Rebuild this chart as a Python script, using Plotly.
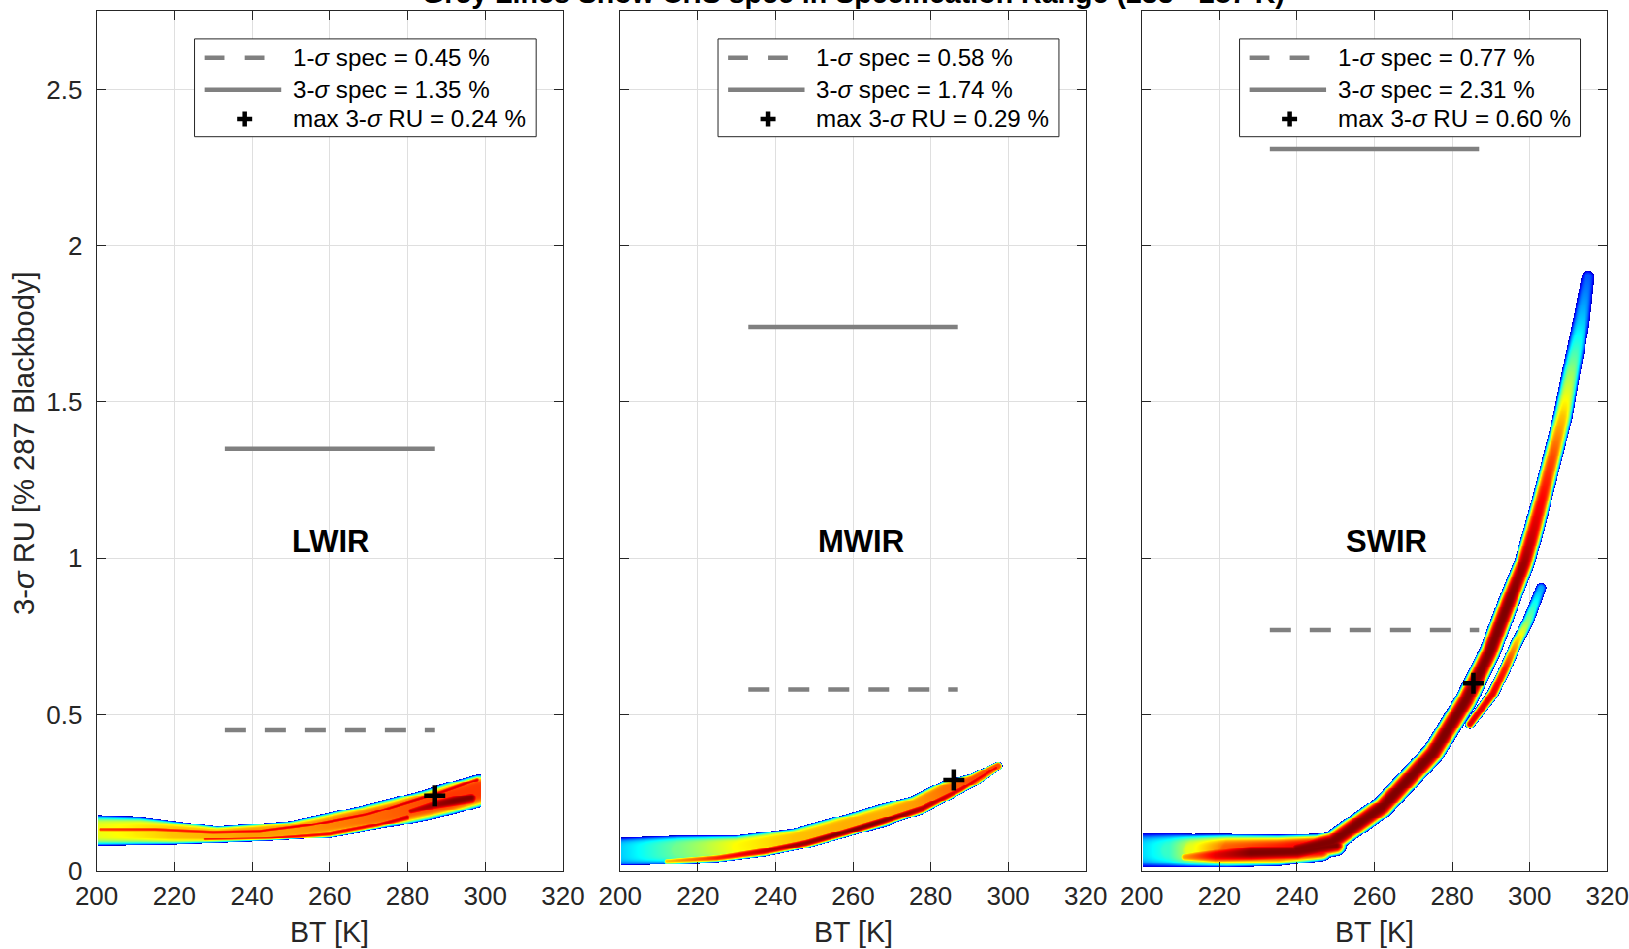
import numpy as np
import plotly.graph_objects as go

# ---------------- data ----------------
bands = ["LWIR", "MWIR", "SWIR"]
spec_1sigma = [0.45, 0.58, 0.77]
spec_3sigma = [1.35, 1.74, 2.31]
spec_range = [233, 287]
max_bt = [287.0, 286.0, 285.5]
max_ru = [0.24, 0.29, 0.60]
label_bt = [260.3, 262.1, 263.2]
label_ru = [1.055, 1.055, 1.055]
bt_ticks = [200, 220, 240, 260, 280, 300, 320]
ru_ticks = [0, 0.5, 1, 1.5, 2, 2.5]

# density ridges: BT [K], RU [%], half spread [px], peak density (0..1)
lw_broad_bt = [200.3, 211, 220, 231, 240, 250, 259, 268, 277, 285, 291, 298.5]
lw_broad_ru = [0.127, 0.126, 0.12, 0.114, 0.12, 0.128, 0.145, 0.165, 0.187, 0.21, 0.23, 0.256]
lw_broad_hw = [15.5, 14.5, 12, 8.5, 9, 9.5, 11.5, 13, 14.5, 15.5, 16.5, 16.5]
lw_broad_pk = [0.6, 0.64, 0.68, 0.7, 0.72, 0.72, 0.74, 0.76, 0.78, 0.8, 0.82, 0.82]
lw_up_bt = [201, 215, 230, 242, 255, 270, 285, 298]
lw_up_ru = [0.13, 0.13, 0.122, 0.125, 0.145, 0.18, 0.235, 0.29]
lw_up_hw = [4, 4, 3.5, 3.5, 4, 4, 4.5, 4.5]
lw_up_pk = [0.82, 0.85, 0.86, 0.88, 0.9, 0.9, 0.92, 0.9]
lw_lo_bt = [228, 245, 260, 272, 280]
lw_lo_ru = [0.1, 0.105, 0.118, 0.145, 0.17]
lw_lo_hw = [3.5, 3.5, 4, 4.5, 5.5]
lw_lo_pk = [0.85, 0.87, 0.88, 0.9, 0.92]
lw_blob_bt = [281, 287, 292, 296.5]
lw_blob_ru = [0.19, 0.21, 0.222, 0.232]
lw_blob_hw = [6, 8.5, 9.5, 9.5]
lw_blob_pk = [0.93, 0.97, 1.0, 1.0]

mw_broad_bt = [200.5, 215, 230, 245, 258, 268, 276, 284, 291, 297.5]
mw_broad_ru = [0.062, 0.068, 0.076, 0.103, 0.144, 0.178, 0.21, 0.2575, 0.29, 0.335]
mw_broad_hw = [14.5, 14.5, 12, 10.5, 11.2, 11.7, 9.6, 10, 6.8, 4.5]
mw_broad_pk = [0.32, 0.48, 0.62, 0.68, 0.7, 0.7, 0.72, 0.76, 0.8, 0.8]
mw_core_bt = [212, 225, 237, 248, 258, 268, 278, 288, 297]
mw_core_ru = [0.032, 0.042, 0.063, 0.09, 0.124, 0.16, 0.2, 0.262, 0.33]
mw_core_hw = [3.5, 4.5, 5.5, 5.5, 5.5, 5.5, 5.5, 4.5, 3.5]
mw_core_pk = [0.68, 0.84, 0.93, 0.98, 1.0, 1.0, 0.95, 0.9, 0.88]

sw_flat_bt = [200.3, 207, 213, 222, 235, 246]
sw_flat_ru = [0.066, 0.066, 0.065, 0.065, 0.066, 0.075]
sw_flat_hw = [17.5, 17.5, 17, 17, 16, 14]
sw_flat_pk = [0.33, 0.42, 0.6, 0.78, 0.85, 0.9]
sw_core_bt = [211, 219, 228, 240, 250]
sw_core_ru = [0.045, 0.05, 0.058, 0.062, 0.082]
sw_core_hw = [6, 11, 13, 12.5, 11]
sw_core_pk = [0.72, 0.9, 1.0, 1.0, 1.0]
sw_main_bt = [240, 249, 262, 275, 283.5, 289.6, 294.5, 298.5, 300.7, 303.2, 305.8, 308.4, 310.5, 313.1, 314.9]
sw_main_ru = [0.068, 0.093, 0.205, 0.377, 0.546, 0.70, 0.86, 0.985, 1.08, 1.197, 1.325, 1.453, 1.592, 1.752, 1.90]
sw_main_hw = [11, 11.5, 11.5, 11.5, 11.5, 11, 11, 10.5, 10.5, 10, 10, 10, 9.5, 9, 7]
sw_main_pk = [1, 1, 1, 1, 1, 1, 1, 0.97, 0.92, 0.87, 0.8, 0.68, 0.52, 0.32, 0.2]
sw_br_bt = [284.5, 290.4, 293.5, 296.4, 299.5, 302.8]
sw_br_ru = [0.47, 0.567, 0.645, 0.727, 0.80, 0.905]
sw_br_hw = [5, 6, 6, 6, 6, 5.5]
sw_br_pk = [0.9, 0.9, 0.85, 0.7, 0.5, 0.28]

# ---------------- geometry ----------------
W, H = 1629, 949
XDOM = [[96.6 / W, 563.0 / W], [620.3 / W, 1085.7 / W], [1141.8 / W, 1607.3 / W]]
YDOM = [1 - 870.7 / H, 1 - 11.4 / H]
XR = [200, 320]
YR = [0, 2.75]
PX_PER_K = (563.0 - 96.6) / 120.0
PX_PER_RU = (870.7 - 11.4) / 2.75


def ridge(gx, gy, bt, ru, hw, pk, expo=3.0):
    X = (gx[None, :] - 200) * PX_PER_K
    Y = gy[:, None] * PX_PER_RU
    out = np.zeros((len(gy), len(gx)))
    px = (np.asarray(bt) - 200) * PX_PER_K
    py = np.asarray(ru) * PX_PER_RU
    for i in range(len(bt) - 1):
        dx, dy = px[i + 1] - px[i], py[i + 1] - py[i]
        L2 = dx * dx + dy * dy
        t = np.clip(((X - px[i]) * dx + (Y - py[i]) * dy) / L2, 0, 1)
        d = np.hypot(X - (px[i] + t * dx), Y - (py[i] + t * dy))
        w = hw[i] + t * (hw[i + 1] - hw[i])
        p = pk[i] + t * (pk[i + 1] - pk[i])
        v = np.where(d < w, p * (1 - np.clip(d / w, 0, 1) ** expo), 0.0)
        out = np.maximum(out, v)
    return out


def panel_density(gx, gy, layers, lo, hi):
    z = np.zeros((len(gy), len(gx)))
    for (bt, ru, hw, pk, e) in layers:
        z = np.maximum(z, ridge(gx, gy, bt, ru, hw, pk, e))
    z[:, (gx < lo) | (gx > hi)] = 0
    z[gy < 0.004, :] = 0
    z = z.astype(np.float32)
    z[z < 0.04] = np.nan
    return z


gx = np.arange(200.125, 320, 0.25)
gy_lw = np.arange(0.0015, 0.36, 0.003)
gy_mw = np.arange(0.0015, 0.40, 0.003)
gy_sw = np.arange(0.0015, 1.98, 0.003)

z_lw = panel_density(gx, gy_lw, [
    (lw_broad_bt, lw_broad_ru, lw_broad_hw, lw_broad_pk, 5.0),
    (lw_up_bt, lw_up_ru, lw_up_hw, lw_up_pk, 2.0),
    (lw_lo_bt, lw_lo_ru, lw_lo_hw, lw_lo_pk, 2.0),
    (lw_blob_bt, lw_blob_ru, lw_blob_hw, lw_blob_pk, 2.5),
], 200.2, 299.0)
z_mw = panel_density(gx, gy_mw, [
    (mw_broad_bt, mw_broad_ru, mw_broad_hw, mw_broad_pk, 5.0),
    (mw_core_bt, mw_core_ru, mw_core_hw, mw_core_pk, 2.5),
], 200.2, 298.7)
z_sw = panel_density(gx, gy_sw, [
    (sw_flat_bt, sw_flat_ru, sw_flat_hw, sw_flat_pk, 4.0),
    (sw_core_bt, sw_core_ru, sw_core_hw, sw_core_pk, 2.5),
    (sw_main_bt, sw_main_ru, sw_main_hw, sw_main_pk, 3.0),
    (sw_br_bt, sw_br_ru, sw_br_hw, sw_br_pk, 3.0),
], 200.2, 320)

jet = [[0.0, "rgb(0,0,143)"], [0.111, "rgb(0,0,255)"], [0.365, "rgb(0,255,255)"],
       [0.619, "rgb(255,255,0)"], [0.873, "rgb(255,0,0)"], [1.0, "rgb(128,0,0)"]]

FONT = "Liberation Sans, Arial, Helvetica, sans-serif"
AX = "#262626"
GREY = "rgb(128,128,128)"

fig = go.Figure()
dens = [(z_lw, gy_lw), (z_mw, gy_mw), (z_sw, gy_sw)]
shapes, annots = [], []
for k in range(3):
    xa = "x" if k == 0 else f"x{k+1}"
    ya = "y" if k == 0 else f"y{k+1}"
    z, gy = dens[k]
    fig.add_trace(go.Heatmap(x=gx, y=gy, z=z, colorscale=jet, zmin=0, zmax=1,
                             showscale=False, zsmooth=False, hoverinfo="skip",
                             xaxis=xa, yaxis=ya))
    fig.add_trace(go.Scatter(x=spec_range, y=[spec_3sigma[k]] * 2, mode="lines",
                             line=dict(color=GREY, width=4.5), xaxis=xa, yaxis=ya,
                             showlegend=False))
    fig.add_trace(go.Scatter(x=spec_range, y=[spec_1sigma[k]] * 2, mode="lines",
                             line=dict(color=GREY, width=4.5, dash="21px,19px"),
                             xaxis=xa, yaxis=ya, showlegend=False))
    fig.add_trace(go.Scatter(x=[max_bt[k]], y=[max_ru[k]], mode="markers",
                             marker=dict(symbol="cross-thin", size=15,
                                         line=dict(color="black", width=4.5)),
                             xaxis=xa, yaxis=ya, showlegend=False))
    # legend box
    shapes.append(dict(type="rect", xref=xa, yref=ya, x0=225.2, x1=313.1, y0=2.349, y1=2.662,
                       line=dict(color=AX, width=1), fillcolor="white", layer="above"))
    for a, b in [(227.8, 232.9), (238.1, 243.2)]:
        shapes.append(dict(type="line", xref=xa, yref=ya, x0=a, x1=b, y0=2.602, y1=2.602,
                           line=dict(color=GREY, width=4.5), layer="above"))
    shapes.append(dict(type="line", xref=xa, yref=ya, x0=227.8, x1=247.5, y0=2.499, y1=2.499,
                       line=dict(color=GREY, width=4.5), layer="above"))
    shapes.append(dict(type="line", xref=xa, yref=ya, x0=238.1 - 1.93, x1=238.1 + 1.93,
                       y0=2.406, y1=2.406, line=dict(color="black", width=4.5), layer="above"))
    shapes.append(dict(type="line", xref=xa, yref=ya, x0=238.1, x1=238.1,
                       y0=2.406 - 0.024, y1=2.406 + 0.024, line=dict(color="black", width=4.5),
                       layer="above"))
    texts = [f"1-<i>σ</i> spec = {spec_1sigma[k]:.2f} %",
             f"3-<i>σ</i> spec = {spec_3sigma[k]:.2f} %",
             f"max 3-<i>σ</i> RU = {max_ru[k]:.2f} %"]
    for t, yy in zip(texts, [2.602, 2.499, 2.406]):
        annots.append(dict(text=t, x=250.0, y=yy, xref=xa, yref=ya, xanchor="left",
                           yanchor="middle", showarrow=False,
                           font=dict(family=FONT, size=24.2, color="black")))
    annots.append(dict(text=f"<b>{bands[k]}</b>", x=label_bt[k], y=label_ru[k], xref=xa, yref=ya,
                       xanchor="center", yanchor="middle", showarrow=False,
                       font=dict(family=FONT, size=31, color="black")))
    annots.append(dict(text="BT [K]", x=(XDOM[k][0] + XDOM[k][1]) / 2, y=1 - 932 / H,
                       xref="paper", yref="paper", xanchor="center", yanchor="middle",
                       showarrow=False, font=dict(family=FONT, size=28.6, color=AX)))

annots.append(dict(text="3-<i>σ</i> RU [% 287 Blackbody]", x=24 / W, y=1 - 443 / H,
                   xref="paper", yref="paper", xanchor="center", yanchor="middle",
                   textangle=-90, showarrow=False, font=dict(family=FONT, size=29.2, color=AX)))
annots.append(dict(text="<b>Grey Lines Show CrIS spec in Specification Range (233 - 287 K)</b>",
                   x=(XDOM[1][0] + XDOM[1][1]) / 2, y=1 - 11 / H, xref="paper", yref="paper",
                   xanchor="center", yanchor="bottom", showarrow=False,
                   font=dict(family=FONT, size=28.6, color="black")))

layout = dict(width=W, height=H, margin=dict(l=0, r=0, t=0, b=0, autoexpand=False),
              paper_bgcolor="white", plot_bgcolor="white", showlegend=False,
              shapes=shapes, annotations=annots)
for k in range(3):
    xn = "xaxis" if k == 0 else f"xaxis{k+1}"
    yn = "yaxis" if k == 0 else f"yaxis{k+1}"
    ya = "y" if k == 0 else f"y{k+1}"
    xa = "x" if k == 0 else f"x{k+1}"
    common = dict(showline=True, linecolor=AX, linewidth=1, mirror="ticks",
                  ticks="inside", ticklen=9, tickwidth=1, tickcolor=AX,
                  showgrid=True, gridcolor="#dfdfdf", gridwidth=1, zeroline=False,
                  automargin=False, tickfont=dict(family=FONT, size=26, color=AX))
    layout[xn] = dict(domain=XDOM[k], range=XR, anchor=ya, tickvals=bt_ticks,
                      ticktext=[str(v) for v in bt_ticks], ticklabelstandoff=2, **common)
    layout[yn] = dict(domain=YDOM, range=YR, anchor=xa, tickvals=ru_ticks,
                      ticktext=[("%g" % v) for v in ru_ticks], showticklabels=(k == 0),
                      ticklabelstandoff=8, **common)
fig.update_layout(**layout)
fig.write_html("out.html")
